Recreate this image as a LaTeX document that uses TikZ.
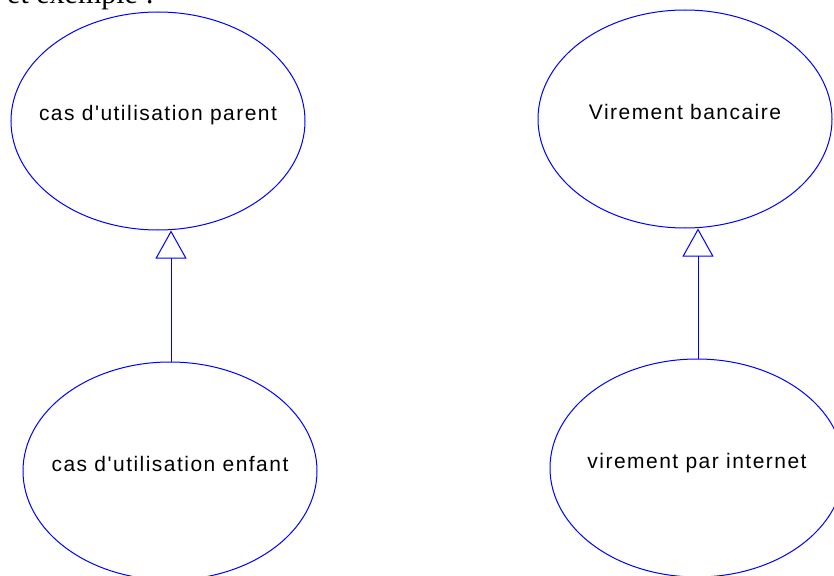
\documentclass[tikz,border=0pt]{standalone}
\usepackage{fontspec}
\setmainfont{Liberation Sans}
\newfontfamily\casfont[LetterSpace=7]{Liberation Sans}
\newfontfamily\titlefont{Liberation Serif}
\usepackage{xcolor}
\usepackage{tikz}
\usetikzlibrary{arrows.meta, shapes.geometric, calc}

\newcommand{\uctexte}[1]{\makebox[0pt]{#1}}

\tikzset{
	usecase/.style={draw=blue, line width=1pt, ellipse, inner sep=0pt,
		minimum width=294pt, minimum height=218pt,
		text height=0pt, text depth=0pt, font=\casfont\fontsize{21}{21}\selectfont},
	heritage/.style={draw=blue, line width=1pt, -{Triangle[open, length=28pt, width=31pt]}}
}

\begin{document}
\begin{tikzpicture}[x=1pt, y=-1pt]
	\useasboundingbox (0,0) rectangle (834,575);

	\node[anchor=base west, inner sep=0pt, font=\titlefont\fontsize{30}{30}\selectfont] (titre) at (7,4) {et exemple :};

	% exemple generique
	\node[usecase] (parent) at (158,121) {\uctexte{cas d'utilisation parent}};
	\node[usecase] (enfant) at (170,471) {\uctexte{cas d'utilisation enfant}};

	% exemple concret
	\node[usecase] (virement) at (685,119) {\uctexte{Virement bancaire}};
	\node[usecase] (internet) at (697,468) {\uctexte{virement par internet}};

	\coordinate (E) at ($ (enfant.north)+(1,0) $);
	\coordinate (P) at (E |- parent.south);
	\coordinate (I) at ($ (internet.north)+(1,0) $);
	\coordinate (V) at (I |- virement.south);

	\draw[heritage] (E) -- (P);
	\draw[heritage] (I) -- (V);

\end{tikzpicture}
\end{document}
